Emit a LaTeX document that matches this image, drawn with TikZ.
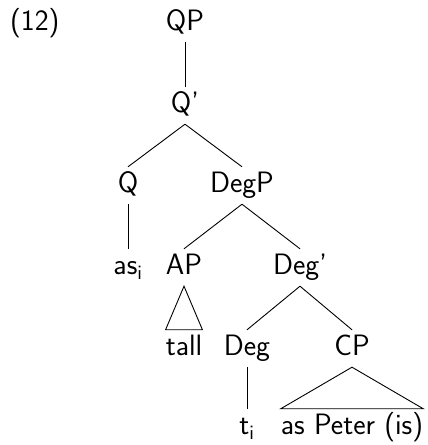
\documentclass[tikz,border=0pt]{standalone}
\usepackage{fontspec}
\begin{document}
\begin{tikzpicture}[x=1pt,y=1pt,
  every node/.style={font=\sffamily\fontsize{29.5}{35}\selectfont, inner sep=0pt},
  lbl/.style={text height=26pt, text depth=11pt, anchor=base},
  edge/.style={line width=0.9pt, black}]
\useasboundingbox (0,0) rectangle (428,445);
\node[anchor=base west] (ex) at (10,414) {(12)};
\node[lbl] (QP) at (185,414) {QP};
\node[lbl] (Qbar) at (185,332) {Q'};
\node[lbl] (Q) at (128,252) {Q};
\node[lbl] (DegP) at (242,252) {DegP};
\node[lbl] (as) at (128,170) {as\textsubscript{i}};
\node[lbl] (AP) at (184,170) {AP};
\node[lbl] (Degbar) at (300,170) {Deg'};
\node[lbl] (tall) at (184,89) {tall};
\node[lbl] (Deg) at (247,89) {Deg};
\node[lbl] (CP) at (352,89) {CP};
\node[lbl] (t) at (247,10) {t\textsubscript{i}};
\node[lbl] (peter) at (352,10) {as Peter (is)};
\draw[edge] (QP.south) -- (Qbar.north);
\draw[edge] (Qbar.south) -- (Q.north);
\draw[edge] (Qbar.south) -- (DegP.north);
\draw[edge] (Q.south) -- (as.north);
\draw[edge] (DegP.south) -- (AP.north);
\draw[edge] (DegP.south) -- (Degbar.north);
\draw[edge] (AP.south) -- (tall.north west) -- (tall.north east) -- cycle;
\draw[edge] (Degbar.south) -- (Deg.north);
\draw[edge] (Degbar.south) -- (CP.north);
\draw[edge] (Deg.south) -- (t.north);
\draw[edge] (CP.south) -- (peter.north west) -- (peter.north east) -- cycle;
\end{tikzpicture}
\end{document}
